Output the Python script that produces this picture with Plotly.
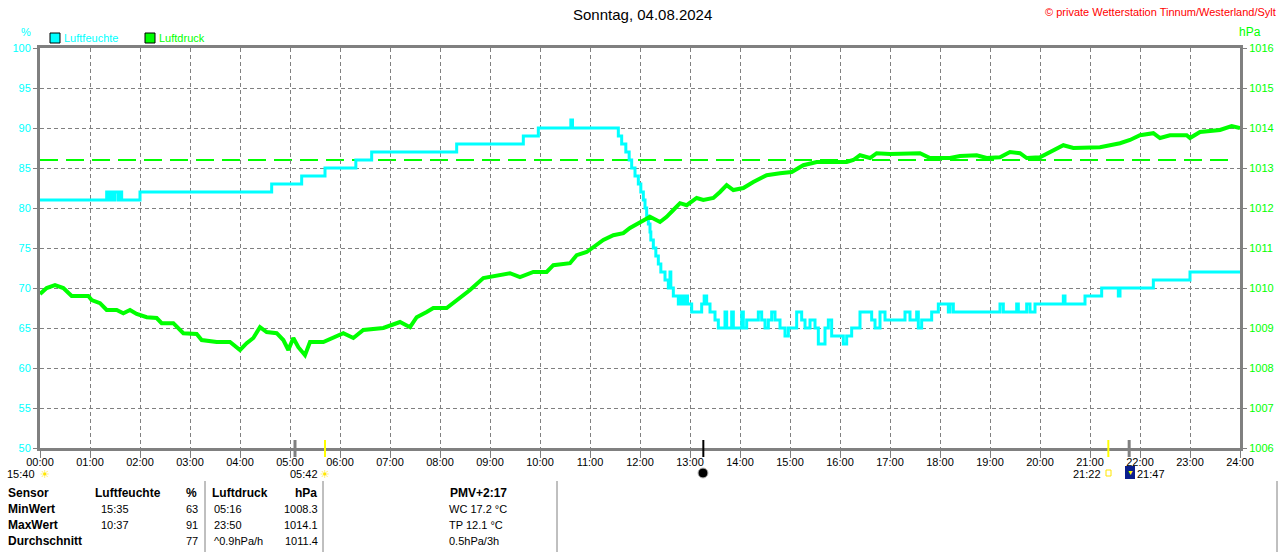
import plotly.graph_objects as go

# Luftfeuchte (%), Stufenwerte
hum_time = ["00:00", "01:20", "01:23", "01:25", "01:28", "01:30", "01:34", "01:36", "01:38",
            "02:00", "04:38", "05:14", "05:42", "06:19", "06:38", "08:20", "09:40", "09:58",
            "10:37", "10:39", "11:34", "11:38", "11:43", "11:47", "11:50", "11:54", "11:58",
            "12:01", "12:04", "12:06", "12:08", "12:10", "12:12", "12:13", "12:16", "12:19",
            "12:22", "12:25", "12:30", "12:34", "12:36", "12:37", "12:40", "12:46", "12:49",
            "12:51", "12:54", "12:57", "13:02", "13:14", "13:17", "13:20", "13:24", "13:30",
            "13:34", "13:42", "13:44", "13:50", "13:52", "14:02", "14:04", "14:08", "14:22",
            "14:26", "14:30", "14:34", "14:38", "14:42", "14:48", "14:54", "14:58", "15:08",
            "15:14", "15:18", "15:24", "15:30", "15:34", "15:42", "15:46", "15:50", "16:04",
            "16:08", "16:14", "16:24", "16:38", "16:42", "16:48", "16:54", "17:18", "17:24",
            "17:32", "17:34", "17:38", "17:50", "17:58", "18:10", "18:12", "18:16", "19:12",
            "19:16", "19:32", "19:34", "19:44", "19:48", "19:54", "20:28", "20:30", "20:54",
            "21:14", "21:34", "21:36", "22:16", "23:00", "24:00"]
hum_val = [81, 82, 81, 82, 81, 82, 81, 82, 81,
           82, 83, 84, 85, 86, 87, 88, 89, 90,
           91, 90, 89, 88, 87, 86, 85, 84, 83,
           82, 81, 80, 79, 78, 77, 76, 75, 74,
           73, 72, 71, 70, 72, 70, 69, 68, 69,
           68, 69, 68, 67, 68, 69, 68, 67, 66,
           65, 67, 65, 67, 65, 67, 65, 66, 67,
           66, 65, 66, 67, 66, 65, 64, 65, 67,
           66, 65, 66, 65, 63, 65, 66, 64, 63,
           64, 65, 67, 66, 65, 67, 66, 67, 66,
           67, 65, 66, 67, 68, 67, 68, 67, 68,
           67, 68, 67, 68, 67, 68, 69, 68, 69,
           70, 69, 70, 71, 72, 72]

# Luftdruck (hPa)
pres_time = ["00:00", "00:08", "00:18", "00:28", "00:38", "00:58", "01:02", "01:12", "01:20",
             "01:32", "01:40", "01:48", "01:56", "02:08", "02:20", "02:26", "02:40", "02:52",
             "03:08", "03:14", "03:32", "03:48", "04:00", "04:08", "04:16", "04:24", "04:32",
             "04:44", "04:52", "04:58", "05:04", "05:10", "05:18", "05:24", "05:40", "05:52",
             "06:04", "06:16", "06:28", "06:52", "07:12", "07:24", "07:32", "07:44", "07:52",
             "08:08", "08:20", "08:36", "08:52", "09:12", "09:24", "09:36", "09:52", "10:08",
             "10:16", "10:36", "10:44", "10:56", "11:04", "11:16", "11:28", "11:40", "11:48",
             "12:00", "12:12", "12:24", "12:32", "12:40", "12:48", "12:56", "13:08", "13:16",
             "13:28", "13:36", "13:44", "13:52", "14:04", "14:16", "14:32", "14:48", "15:02",
             "15:16", "15:32", "16:08", "16:16", "16:24", "16:36", "16:44", "17:00", "17:36",
             "17:48", "18:12", "18:24", "18:44", "18:56", "19:12", "19:24", "19:36", "19:44",
             "20:00", "20:12", "20:28", "20:40", "20:56", "21:12", "21:36", "21:48", "22:00",
             "22:16", "22:24", "22:36", "22:56", "23:00", "23:12", "23:36", "23:50", "24:00"]
pres_val = [1009.85, 1010.0, 1010.07, 1010.0, 1009.8, 1009.8, 1009.7, 1009.62, 1009.45,
            1009.45, 1009.37, 1009.45, 1009.35, 1009.27, 1009.25, 1009.12, 1009.12, 1008.87,
            1008.85, 1008.7, 1008.65, 1008.65, 1008.45, 1008.62, 1008.75, 1009.02, 1008.9,
            1008.87, 1008.7, 1008.45, 1008.75, 1008.52, 1008.32, 1008.65, 1008.65, 1008.77,
            1008.87, 1008.75, 1008.95, 1009.0, 1009.15, 1009.02, 1009.27, 1009.4, 1009.5,
            1009.5, 1009.7, 1009.95, 1010.25, 1010.32, 1010.37, 1010.27, 1010.4, 1010.4,
            1010.57, 1010.62, 1010.82, 1010.9, 1011.02, 1011.2, 1011.32, 1011.37, 1011.5,
            1011.65, 1011.78, 1011.65, 1011.78, 1011.95, 1012.12, 1012.07, 1012.25, 1012.2,
            1012.25, 1012.4, 1012.57, 1012.45, 1012.5, 1012.65, 1012.82, 1012.87, 1012.9,
            1013.07, 1013.15, 1013.15, 1013.2, 1013.32, 1013.25, 1013.37, 1013.35, 1013.37,
            1013.25, 1013.25, 1013.3, 1013.32, 1013.25, 1013.27, 1013.4, 1013.37, 1013.25,
            1013.27, 1013.4, 1013.57, 1013.5, 1013.52, 1013.52, 1013.62, 1013.7, 1013.82,
            1013.87, 1013.75, 1013.82, 1013.82, 1013.75, 1013.9, 1013.95, 1014.05, 1014.0]

normal_pressure = 1013.2
pressure_ref_end = "23:50"

hour_labels = ["%02d:00" % h for h in range(25)]
hum_ticks = list(range(50, 101, 5))
pres_ticks = list(range(1006, 1017))

# Ereignisse unter der Zeitachse: (Zeit, Farbe, Breite)
event_marks = [("05:06", "#808080", 3), ("05:42", "#FFFF00", 2), ("13:16", "#000000", 2),
               ("21:22", "#FFFF00", 2), ("21:47", "#808080", 3)]

# Tabelle
table_rows = ["Sensor", "MinWert", "MaxWert", "Durchschnitt"]
hum_col_time = ["", "15:35", "10:37", ""]
hum_col_val = ["%", "63", "91", "77"]
pres_col_time = ["", "05:16", "23:50", "^0.9hPa/h"]
pres_col_val = ["hPa", "1008.3", "1014.1", "1011.4"]
extra_col = ["PMV+2:17", "WC 17.2 °C", "TP 12.1 °C", "0.5hPa/3h"]

CYAN = "#00FFFF"
GREEN = "#00FF00"
GRAY = "#808080"
SUN = "#FFE600"
FONT = "Liberation Sans"


def to_min(s):
    h, m = s.split(":")
    return int(h) * 60 + int(m)


def px(x):
    return (x - 40) / 1200


def py(y):
    return (448 - y) / 400


fig = go.Figure()

fig.add_trace(go.Scatter(
    x=[to_min(t) for t in hum_time], y=hum_val,
    mode="lines", line=dict(color=CYAN, width=3, shape="hv"),
    name="Luftfeuchte", yaxis="y"
))
fig.add_trace(go.Scatter(
    x=[to_min(t) for t in pres_time], y=pres_val,
    mode="lines", line=dict(color=GREEN, width=4),
    name="Luftdruck", yaxis="y2"
))

# Normaldruck-Linie
fig.add_shape(type="line", xref="x", yref="y2", x0=0, x1=to_min(pressure_ref_end),
              y0=normal_pressure, y1=normal_pressure,
              line=dict(color=GREEN, width=2, dash="18px,8px"), layer="below")

for t, col, w in event_marks:
    fig.add_shape(type="line", xref="x", yref="paper", x0=to_min(t), x1=to_min(t),
                  y0=py(440), y1=py(457), line=dict(color=col, width=w))

annotations = []


def txt(text, x, y, color="black", size=11, anchor="left", bold=False):
    if bold:
        text = "<b>%s</b>" % text
    annotations.append(dict(text=text, x=px(x), y=py(y), xref="paper", yref="paper",
                            xanchor=anchor, yanchor="middle", showarrow=False,
                            font=dict(family=FONT, size=size, color=color)))


txt("Sonntag, 04.08.2024", 642, 15, size=15, anchor="center")
txt("© private Wetterstation Tinnum/Westerland/Sylt", 1278, 12, color="#FF0000", size=11, anchor="right")
txt("%", 26, 32, color=CYAN, size=11, anchor="center")
txt("hPa", 1250, 32, color=GREEN, size=12, anchor="center")
txt("Luftfeuchte", 62, 38, color=CYAN, size=11)
txt("Luftdruck", 157, 38, color=GREEN, size=11)

# Legende Kästchen
fig.add_shape(type="rect", xref="paper", yref="paper", x0=px(50), x1=px(60), y0=py(43), y1=py(33),
              fillcolor=CYAN, line=dict(color="black", width=1))
fig.add_shape(type="rect", xref="paper", yref="paper", x0=px(145), x1=px(155), y0=py(43), y1=py(33),
              fillcolor=GREEN, line=dict(color="black", width=1))

# Zeiten unter der Achse
txt("15:40", 37, 474, size=11, anchor="right")
txt("☀", 45, 474, color=SUN, size=11, anchor="center")
txt("05:42", 320, 474, size=11, anchor="right")
txt("☀", 325, 474, color=SUN, size=11, anchor="center")
fig.add_shape(type="circle", xref="paper", yref="paper", x0=px(698), x1=px(708), y0=py(478), y1=py(468),
              fillcolor="black", line=dict(color="#BBBBBB", width=1))
txt("21:22", 1103, 474, size=11, anchor="right")
fig.add_shape(type="rect", xref="paper", yref="paper", x0=px(1106), x1=px(1111), y0=py(476), y1=py(470),
              fillcolor="white", line=dict(color=SUN, width=1))
fig.add_shape(type="rect", xref="paper", yref="paper", x0=px(1125), x1=px(1135), y0=py(479), y1=py(466),
              fillcolor="#0A1E8C", line=dict(width=0))
txt("▼", 1130, 472, color="#FFFF00", size=7, anchor="center")
txt("21:47", 1135, 474, size=11)

# Tabelle
row_y = [493, 509, 525, 541]
for i, yy in enumerate(row_y):
    txt(table_rows[i], 6, yy, bold=True, size=12)
    if i == 0:
        txt("Luftfeuchte", 93, yy, bold=True, size=12)
        txt("Luftdruck", 210, yy, bold=True, size=12)
        txt(hum_col_val[i], 199, yy, bold=True, size=12, anchor="right")
        txt(pres_col_val[i], 319, yy, bold=True, size=12, anchor="right")
        txt(extra_col[i], 478, yy, bold=True, size=12, anchor="center")
    else:
        txt(hum_col_time[i], 99, yy)
        txt(hum_col_val[i], 200, yy, anchor="right")
        txt(pres_col_time[i], 212, yy)
        txt(pres_col_val[i], 320, yy, anchor="right")
        txt(extra_col[i], 447, yy)

for sx in [205, 323, 557, 1277]:
    fig.add_shape(type="line", xref="paper", yref="paper", x0=px(sx), x1=px(sx),
                  y0=py(481), y1=py(552), line=dict(color=GRAY, width=1))

fig.update_layout(
    width=1280, height=552,
    margin=dict(l=40, r=40, t=48, b=104, autoexpand=False),
    paper_bgcolor="white", plot_bgcolor="white",
    showlegend=False,
    font=dict(family=FONT, size=11, color="black"),
    annotations=annotations,
    xaxis=dict(
        range=[0, 1440], tickvals=[h * 60 for h in range(25)], ticktext=hour_labels,
        showgrid=True, gridcolor=GRAY, griddash="4px,3px", gridwidth=1,
        showline=True, linecolor=GRAY, linewidth=3, mirror=True,
        ticks="outside", ticklen=7, tickcolor=GRAY, tickwidth=1, ticklabelstandoff=-5,
        tickfont=dict(family=FONT, size=11, color="black"), zeroline=False,
        automargin=False
    ),
    yaxis=dict(
        range=[50, 100], tickvals=hum_ticks,
        showgrid=True, gridcolor=GRAY, griddash="4px,3px", gridwidth=1,
        showline=True, linecolor=GRAY, linewidth=3,
        ticks="outside", ticklen=4, tickcolor=GRAY,
        tickfont=dict(family=FONT, size=11, color=CYAN), zeroline=False,
        automargin=False
    ),
    yaxis2=dict(
        range=[1006, 1016], tickvals=pres_ticks, overlaying="y", side="right",
        showgrid=False, showline=True, linecolor=GRAY, linewidth=3,
        ticks="outside", ticklen=4, tickcolor=GRAY,
        tickfont=dict(family=FONT, size=11, color=GREEN), zeroline=False,
        automargin=False
    ),
)

# Seitenrand entfernen, damit die Grafik bei (0,0) beginnt
fig.write_html("out.html", config={"displayModeBar": False},
               post_script="document.body.style.margin='0';document.body.style.overflow='hidden';")
